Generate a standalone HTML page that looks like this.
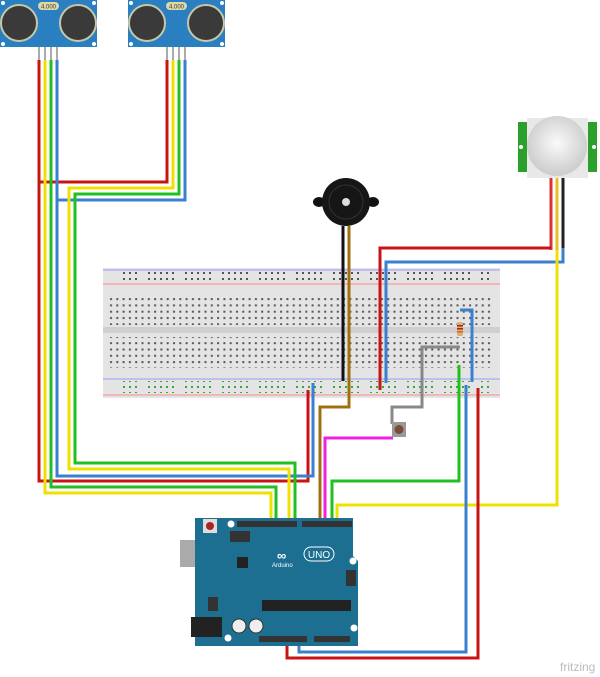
<!DOCTYPE html>
<html><head><meta charset="utf-8"><style>
html,body{margin:0;padding:0;background:#fff;width:600px;height:677px;overflow:hidden}
</style></head><body>
<svg width="600" height="677" viewBox="0 0 600 677" xmlns="http://www.w3.org/2000/svg" font-family="Liberation Sans, sans-serif">
<defs>
<pattern id="h" x="108" y="0" width="6.3" height="6.3" patternUnits="userSpaceOnUse"><rect x="2" y="2" width="2" height="2" fill="#555"/></pattern>
<pattern id="r" x="111" y="0" width="37" height="6" patternUnits="userSpaceOnUse">
<g fill="#555"><rect x="0" y="2" width="2" height="2"/><rect x="6" y="2" width="2" height="2"/><rect x="12" y="2" width="2" height="2"/><rect x="18" y="2" width="2" height="2"/><rect x="24" y="2" width="2" height="2"/></g></pattern>
<pattern id="g" x="111" y="0" width="37" height="6" patternUnits="userSpaceOnUse">
<g fill="#3a3"><rect x="0" y="2" width="2" height="2"/><rect x="6" y="2" width="2" height="2"/><rect x="12" y="2" width="2" height="2"/><rect x="18" y="2" width="2" height="2"/><rect x="24" y="2" width="2" height="2"/></g></pattern>
<radialGradient id="dome" cx="0.5" cy="0.45" r="0.5"><stop offset="0" stop-color="#fafafa"/><stop offset="1" stop-color="#cfcfcf"/></radialGradient>
</defs>

<!-- breadboard -->
<rect x="103" y="268" width="397" height="130" fill="#e4e4e4"/>
<rect x="103" y="327" width="397" height="6" fill="#cfcfcf"/>
<line x1="103" y1="270" x2="500" y2="270" stroke="#99f" stroke-width="1"/>
<line x1="103" y1="284" x2="500" y2="284" stroke="#f88" stroke-width="1"/>
<line x1="103" y1="379" x2="500" y2="379" stroke="#99f" stroke-width="1"/>
<line x1="103" y1="395" x2="500" y2="395" stroke="#f88" stroke-width="1"/>
<rect x="120" y="270" width="370" height="12" fill="url(#r)"/>
<rect x="108" y="294" width="384" height="31" fill="url(#h)"/>
<rect x="108" y="337" width="384" height="31" fill="url(#h)"/>
<rect x="120" y="381" width="370" height="12" fill="url(#g)"/>

<!-- sensors -->
<g>
<rect x="0" y="0" width="97" height="47" fill="#2a7fc1"/>
<circle cx="19" cy="23" r="18" fill="#3a3a3a" stroke="#c8c8a8" stroke-width="2"/>
<circle cx="78" cy="23" r="18" fill="#3a3a3a" stroke="#c8c8a8" stroke-width="2"/>
<rect x="38" y="2" width="21" height="8" rx="4" fill="#ddd8a8"/>
<text x="48.5" y="8.5" font-size="6" text-anchor="middle" fill="#333">4.000</text>
<circle cx="3" cy="3" r="2" fill="#fff"/><circle cx="94" cy="3" r="2" fill="#fff"/><circle cx="3" cy="44" r="2" fill="#fff"/><circle cx="94" cy="44" r="2" fill="#fff"/>
<g fill="#aaa"><rect x="38" y="47" width="2" height="13"/><rect x="44" y="47" width="2" height="13"/><rect x="50" y="47" width="2" height="13"/><rect x="56" y="47" width="2" height="13"/></g>
</g>
<g transform="translate(128,0)">
<rect x="0" y="0" width="97" height="47" fill="#2a7fc1"/>
<circle cx="19" cy="23" r="18" fill="#3a3a3a" stroke="#c8c8a8" stroke-width="2"/>
<circle cx="78" cy="23" r="18" fill="#3a3a3a" stroke="#c8c8a8" stroke-width="2"/>
<rect x="38" y="2" width="21" height="8" rx="4" fill="#ddd8a8"/>
<text x="48.5" y="8.5" font-size="6" text-anchor="middle" fill="#333">4.000</text>
<circle cx="3" cy="3" r="2" fill="#fff"/><circle cx="94" cy="3" r="2" fill="#fff"/><circle cx="3" cy="44" r="2" fill="#fff"/><circle cx="94" cy="44" r="2" fill="#fff"/>
<g fill="#aaa"><rect x="38" y="47" width="2" height="13"/><rect x="44" y="47" width="2" height="13"/><rect x="50" y="47" width="2" height="13"/><rect x="56" y="47" width="2" height="13"/></g>
</g>

<!-- buzzer -->
<ellipse cx="319" cy="202" rx="6" ry="5" fill="#111"/><ellipse cx="373" cy="202" rx="6" ry="5" fill="#111"/>
<circle cx="346" cy="202" r="24" fill="#161616"/>
<circle cx="346" cy="202" r="17" fill="none" stroke="#333"/>
<circle cx="346" cy="202" r="4" fill="#ddd"/>

<!-- PIR -->
<rect x="518" y="122" width="10" height="50" fill="#2ca02c"/><rect x="587" y="122" width="10" height="50" fill="#2ca02c"/>
<circle cx="521" cy="147" r="2" fill="#fff"/><circle cx="594" cy="147" r="2" fill="#fff"/>
<rect x="527" y="118" width="61" height="60" fill="#e8e8e8"/>
<circle cx="557" cy="146" r="30" fill="url(#dome)"/>
<g stroke-width="3" fill="none">
<line x1="551" y1="178" x2="551" y2="250" stroke="#d33"/>
<line x1="557" y1="178" x2="557" y2="250" stroke="#e8c020"/>
<line x1="563" y1="178" x2="563" y2="250" stroke="#222"/>
</g>

<!-- wires -->
<g fill="none" stroke-width="3" stroke-linejoin="miter">
<polyline stroke="#c81414" points="39,60 39,481 308,481 308,390"/>
<polyline stroke="#c81414" points="167,60 167,182 39,182"/>
<polyline stroke="#f0e000" points="45,60 45,493 271,493 271,522"/>
<polyline stroke="#20c020" points="51,60 51,487 276,487 276,522"/>
<polyline stroke="#3a7fd0" points="57,60 57,476 313,476 313,383"/>
<polyline stroke="#3a7fd0" points="185,60 185,200 57,200"/>
<polyline stroke="#f0e000" points="173,60 173,188 69,188 69,469 289,469 289,522"/>
<polyline stroke="#20c020" points="179,60 179,194 75,194 75,463 295,463 295,522"/>
<polyline stroke="#111" points="343,226 343,381"/>
<polyline stroke="#a07010" points="349,226 349,407 320,407 320,522"/>
<polyline stroke="#c81414" points="551,248 380,248 380,390"/>
<polyline stroke="#3a7fd0" points="563,248 563,262 386,262 386,383"/>
<polyline stroke="#f0e000" points="557,250 557,505 337,505 337,522"/>
<polyline stroke="#3a7fd0" points="460,310 472,310 472,382"/>
<polyline stroke="#888" points="460,347 422,347 422,407 392,407 392,424"/>
<polyline stroke="#f020e0" points="393,438 325,438 325,522"/>
<polyline stroke="#20c020" points="459,365 459,481 332,481 332,522"/>
<polyline stroke="#3a7fd0" points="466,385 466,652 299,652 299,638"/>
<polyline stroke="#c81414" points="478,388 478,658 287,658 287,638"/>
</g>

<!-- resistor -->
<rect x="457" y="322" width="6" height="14" rx="2" fill="#d8b070"/>
<rect x="457" y="325" width="6" height="1.5" fill="#a22"/><rect x="457" y="328" width="6" height="1.5" fill="#a22"/><rect x="457" y="331" width="6" height="1.5" fill="#d62"/>

<!-- button -->
<rect x="392" y="422" width="14" height="15" fill="#999"/>
<circle cx="399" cy="429.5" r="4.5" fill="#7a4a3a"/>

<!-- arduino -->
<rect x="180" y="540" width="37" height="27" fill="#aaa"/>
<path d="M195 518 H353 V556 L358 561 V646 H195 Z" fill="#1d6f91"/>
<rect x="191" y="617" width="31" height="20" fill="#222"/>
<rect x="203" y="519" width="14" height="14" fill="#ddd"/><circle cx="210" cy="526" r="4" fill="#a22"/>
<rect x="237" y="521" width="60" height="6" fill="#333"/>
<rect x="302" y="521" width="50" height="6" fill="#333"/>
<rect x="259" y="636" width="48" height="6" fill="#333"/>
<rect x="314" y="636" width="36" height="6" fill="#333"/>
<rect x="262" y="600" width="89" height="11" fill="#222"/>
<rect x="237" y="557" width="11" height="11" fill="#222"/>
<rect x="208" y="597" width="10" height="14" fill="#333"/>
<circle cx="239" cy="626" r="7" fill="#eee" stroke="#333"/><circle cx="256" cy="626" r="7" fill="#eee" stroke="#333"/>
<rect x="230" y="531" width="20" height="11" fill="#333"/>
<rect x="346" y="570" width="10" height="16" fill="#333"/>
<circle cx="231" cy="524" r="3.5" fill="#fff"/><circle cx="353" cy="561" r="3.5" fill="#fff"/><circle cx="228" cy="638" r="3.5" fill="#fff"/><circle cx="354" cy="628" r="3.5" fill="#fff"/>
<text x="277" y="560" font-size="13" fill="#fff" font-weight="bold">∞</text>
<rect x="304" y="547" width="30" height="14" rx="7" fill="none" stroke="#fff"/>
<text x="319" y="558" font-size="10" text-anchor="middle" fill="#fff">UNO</text>
<text x="272" y="567" font-size="6" fill="#fff">Arduino</text>

<text x="560" y="671" font-size="12" fill="#bbb">fritzing</text>
</svg>
</body></html>
